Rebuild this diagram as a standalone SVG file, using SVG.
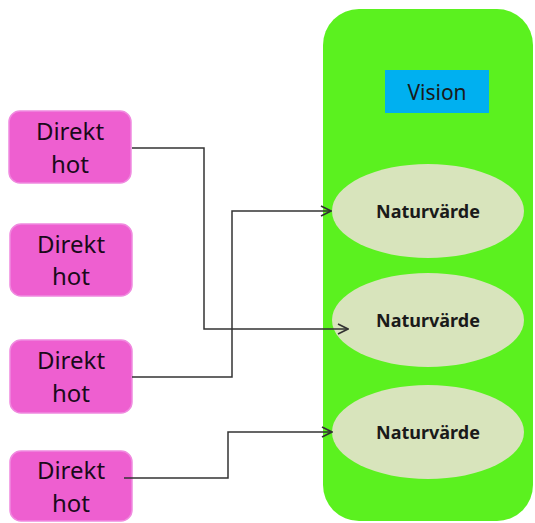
<svg xmlns="http://www.w3.org/2000/svg" width="535" height="523" viewBox="0 0 535 523">
<style>
.hot{fill:#EE5FD0;stroke:#F08ADF;stroke-width:1.5}
.ht{font-family:"Noto Sans","Liberation Sans",sans-serif;font-size:24px;fill:#1a0a1a;text-anchor:middle}
.nv{fill:#D8E4BC}
.nt{font-family:"Noto Sans","Liberation Sans",sans-serif;font-size:18px;font-weight:bold;fill:#1a1a1a;text-anchor:middle}
.con{fill:none;stroke:#333;stroke-width:1.5}
</style>
<defs>
<marker id="arr" viewBox="0 0 12 12" refX="11" refY="6" markerWidth="12" markerHeight="12" markerUnits="userSpaceOnUse" orient="auto">
<path d="M1,1 L11,6 L1,11" fill="none" stroke="#333" stroke-width="1.6"/>
</marker>
</defs>
<rect width="535" height="523" fill="#fff"/>
<g id="container">
<rect x="323" y="9" width="210" height="512" rx="36" fill="#5BF11F"/>
</g>
<g id="vision">
<rect x="385" y="70" width="104" height="43" fill="#00B0F0"/>
<text x="437" y="100" font-family="Noto Sans, Liberation Sans, sans-serif" font-size="21" fill="#1a1a1a" text-anchor="middle">Vision</text>
</g>
<g id="nv1"><ellipse class="nv" cx="428" cy="211" rx="96" ry="47"/><text class="nt" x="428" y="218">Naturvärde</text></g>
<g id="nv2"><ellipse class="nv" cx="428" cy="320" rx="96" ry="47"/><text class="nt" x="428" y="327">Naturvärde</text></g>
<g id="nv3"><ellipse class="nv" cx="428" cy="432" rx="96" ry="47"/><text class="nt" x="428" y="439">Naturvärde</text></g>
<g id="hot1"><rect class="hot" x="9" y="111" width="122" height="72" rx="11"/><text class="ht" x="70" y="140">Direkt</text><text class="ht" x="70" y="173">hot</text></g>
<g id="hot2"><rect class="hot" x="10" y="224" width="122" height="72" rx="11"/><text class="ht" x="71" y="253">Direkt</text><text class="ht" x="71" y="285">hot</text></g>
<g id="hot3"><rect class="hot" x="10" y="340" width="122" height="73" rx="11"/><text class="ht" x="71" y="369">Direkt</text><text class="ht" x="71" y="402">hot</text></g>
<g id="hot4"><rect class="hot" x="10" y="451" width="122" height="70" rx="11"/><text class="ht" x="71" y="479">Direkt</text><text class="ht" x="71" y="512">hot</text></g>
<g id="connectors">
<polyline class="con" points="132,148 204,148 204,329 348,329" marker-end="url(#arr)"/>
<polyline class="con" points="132,377 232,377 232,211 331,211" marker-end="url(#arr)"/>
<polyline class="con" points="124,478 228,478 228,432 332,432" marker-end="url(#arr)"/>
</g>
</svg>
